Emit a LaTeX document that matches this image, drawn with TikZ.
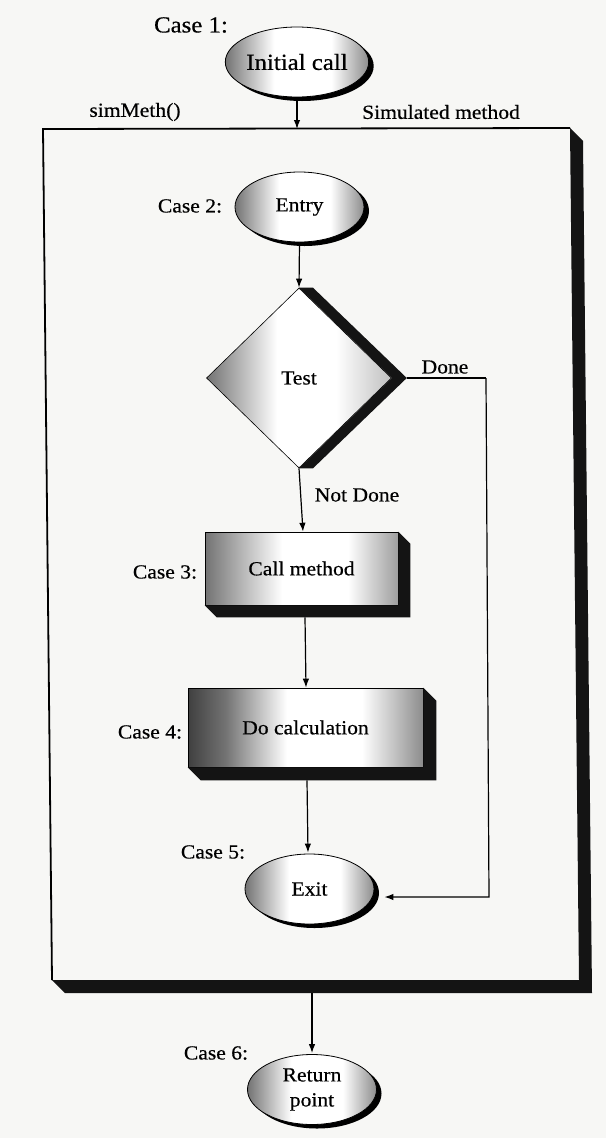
\documentclass[tikz,border=0pt]{standalone}
\usepackage{fontspec}
\setmainfont[FakeStretch=1.08,FakeBold=0.5]{Liberation Serif}
\usetikzlibrary{shapes.geometric,arrows.meta,shadows,calc}

\definecolor{paper}{RGB}{247,247,245}
\definecolor{shA}{gray}{0.45}
\definecolor{shB}{gray}{0.55}
\definecolor{shC}{gray}{0.62}
\definecolor{shD}{gray}{0.25}
\definecolor{shE}{gray}{0.75}

% left-to-right shadings for the raised shapes
\pgfdeclarehorizontalshading{ovalshade}{100bp}{color(0bp)=(shA); color(25bp)=(shA); color(42bp)=(white); color(62bp)=(white); color(75bp)=(shB); color(100bp)=(shB)}
\pgfdeclarehorizontalshading{boxshade}{100bp}{color(0bp)=(shA); color(25bp)=(shA); color(45bp)=(white); color(62bp)=(white); color(75bp)=(shC); color(100bp)=(shC)}
\pgfdeclarehorizontalshading{darkboxshade}{100bp}{color(0bp)=(shD); color(25bp)=(shD); color(33bp)=(shA); color(46bp)=(white); color(62bp)=(white); color(75bp)=(shB); color(100bp)=(shB)}
\pgfdeclarehorizontalshading{diashade}{100bp}{color(0bp)=(shA); color(25bp)=(shA); color(44bp)=(white); color(60bp)=(white); color(75bp)=(shE); color(100bp)=(shE)}

% black extrusion below and to the right of a rectangular node
\newcommand{\slabside}[3]{%
  \fill[black!92] (#1.north east) -- ++(#2,#3) -- ($(#1.south east)+(#2,#3)$)
    -- ($(#1.south west)+(#2,#3)$) -- (#1.south west) -- (#1.south east) -- cycle;}

\tikzset{
  txt/.style={font=\fontsize{20}{25}\selectfont, inner sep=1pt},
  bigtxt/.style={font=\fontsize{23}{27}\selectfont, inner sep=1pt},
  oval/.style={ellipse, draw=black, line width=0.8pt, shading=ovalshade,
    minimum width=129pt, minimum height=70pt, inner sep=0pt, align=center,
    font=\fontsize{20}{25}\selectfont,
    drop shadow={shadow xshift=5pt, shadow yshift=-4pt, fill=black, opacity=1}},
  slab/.style={rectangle, draw=black, line width=0.6pt, inner sep=0pt,
    font=\fontsize{20}{25}\selectfont},
  flow/.style={line width=1.2pt, -{Latex[length=9pt,width=6.5pt]}},
  plain/.style={line width=1.2pt}
}

\begin{document}
\begin{tikzpicture}[x=1pt,y=-1pt]
\fill[paper] (0,0) rectangle (606,1138);
\useasboundingbox (0,0) rectangle (606,1138);

% outer frame of the simulated method
\coordinate (fTL) at (43,129);
\coordinate (fTR) at (570,128);
\coordinate (fBR) at (579,980);
\coordinate (fBL) at (52,980);
\fill[black!92] (fTR) -- ++(13,13) -- ($(fBR)+(13,13)$) -- ($(fBL)+(13,13)$)
  -- (fBL) -- (fBR) -- cycle;
\draw[line width=1.8pt] (fBL) -- (fTL) -- (fTR);
\coordinate (ftop) at (297,129);
\coordinate (fbot) at (312,993);

\node[txt] (lsim) at (135,112) {simMeth()};
\node[txt] (lsimm) at (441,112) {Simulated method};

% case labels
\node[bigtxt] (case1) at (191,25) {Case 1:};
\node[txt] (case2) at (190,206) {Case 2:};
\node[txt] (case3) at (165,572) {Case 3:};
\node[txt] (case4) at (150,732) {Case 4:};
\node[txt] (case5) at (213,852) {Case 5:};
\node[txt] (case6) at (216,1053) {Case 6:};

% flow elements
\node[oval, font=\fontsize{23}{27}\selectfont] (init) at (297,62) {Initial call};
\node[oval] (entry) at (299.5,207) {Entry};

\node[diamond, draw=black, line width=0.6pt, shading=diashade, inner sep=0pt,
  minimum width=185pt, minimum height=180pt, font=\fontsize{20}{25}\selectfont]
  (test) at (299,378) {Test};
\fill[black!92] (test.north) -- ++(14,0) -- ($(test.east)+(15,0)$)
  -- ($(test.south)+(14,0)$) -- (test.south) -- (test.east) -- cycle;

\node[slab, shading=boxshade, minimum width=193pt, minimum height=73pt]
  (call) at (301.5,568.5) {Call method};
\slabside{call}{12}{12}

\node[slab, shading=darkboxshade, minimum width=235pt, minimum height=79pt]
  (calc) at (305.5,727.5) {Do calculation};
\slabside{calc}{13}{13}

\node[oval] (exit) at (309.5,889) {Exit};
\node[oval] (ret) at (312,1089.5) {Return\\point};

% connectors
\draw[flow] (init.south) -- (ftop);
\draw[flow] (entry.south) -- (test.north);
\draw[flow] (test.south) -- ($(call.north)+(1.5,0)$);
\draw[flow] ($(call.south)+(3.5,12)$) -- ($(calc.north)+(0.5,0)$);
\draw[flow] ($(calc.south)+(1.5,13)$) -- ($(exit.north)+(-1.5,-1)$);
\draw[flow] (fbot) -- ($(ret.north)+(0,-1)$);

\draw[plain] ($(test.east)+(15,0)$) -- (486,378) coordinate (dturn);
\draw[flow] (dturn) -- (489,897) coordinate (dlow) -- ($(exit.east)+(10,8)$);

\node[txt] (ldone) at (445,367) {Done};
\node[txt] (lnot) at (357,495) {Not Done};
\end{tikzpicture}
\end{document}
